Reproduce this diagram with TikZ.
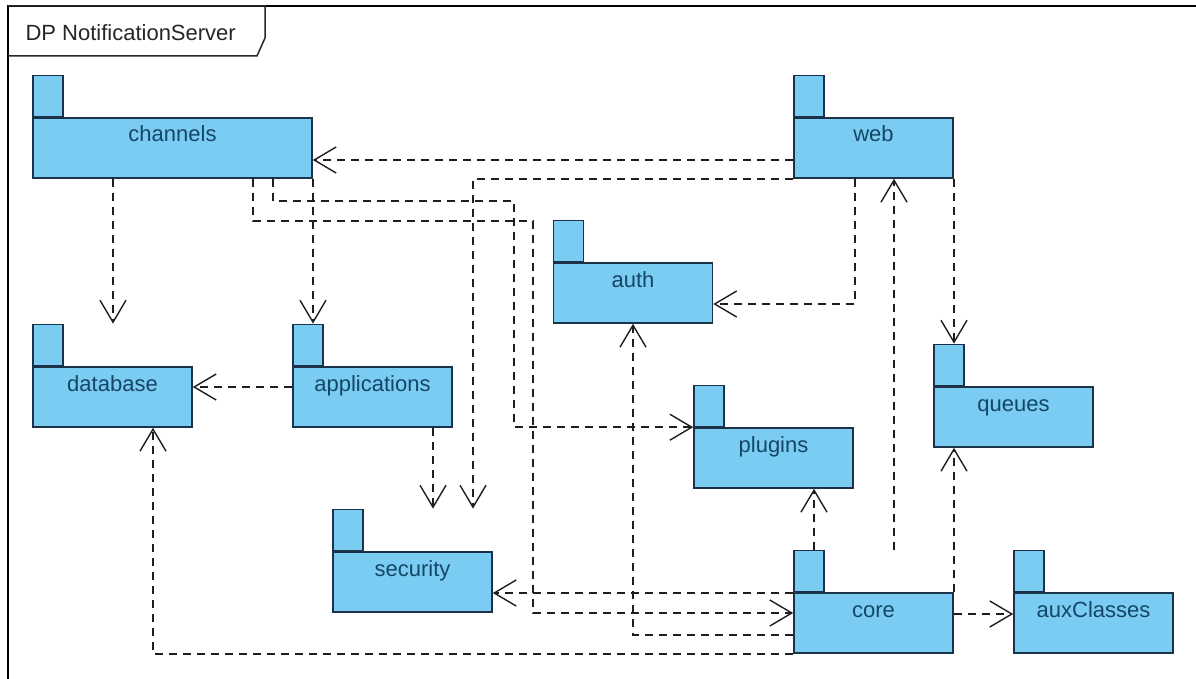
\documentclass[tikz,border=0pt]{standalone}
\usepackage{fontspec}
\setmainfont{Liberation Sans}
\usepackage{tikz}
\usetikzlibrary{arrows.meta,calc,positioning}
\definecolor{celeste}{RGB}{122,204,242}
\definecolor{marino}{RGB}{28,50,72}
\definecolor{tinta}{RGB}{22,70,102}
\definecolor{trazo}{RGB}{30,30,30}
\tikzstyle{package}=[rectangle, draw=marino, fill=celeste, line width=1.6pt,
                     minimum width=159pt, inner xsep=0pt, inner ysep=0pt,
                     text height=24pt, text depth=36pt, text=tinta,
                     font=\fontsize{22}{26}\selectfont]
\tikzstyle{pkgtab}=[rectangle, draw=marino, fill=celeste, line width=1.6pt,
                    minimum width=30pt, minimum height=41pt, inner sep=0pt,
                    anchor=south west]
\tikzstyle{dep}=[draw=trazo, line width=1.7pt, dash pattern=on 8pt off 6pt,
                 -{Straight Barb[length=22pt,width=26pt,line width=1.4pt]}]
\tikzstyle{marco}=[draw=black, line width=2pt]
\tikzstyle{titulo}=[draw=black!85, line width=1.5pt]

\begin{document}
\begin{tikzpicture}[x=1pt,y=-1pt]
    \useasboundingbox (0,0) rectangle (1196,679);

    \draw [marco] (8,679) -- (8,6) -- (1196,6);
    \draw [titulo] (8,6) -- (265,6) -- (265,38) -- (257,56) -- (8,56);
    \draw (22,41) node (title) [anchor=base west, text=black!85,
        font=\fontsize{22}{26}\selectfont] {DP NotificationServer};

    \draw (172.5,148) node (channels) [package, minimum width=279pt] {channels};
    \draw (873.5,148) node (web) [package] {web};
    \draw (112.5,397) node (database) [package] {database};
    \draw (372.5,397) node (applications) [package] {applications};
    \draw (633,293) node (auth) [package] {auth};
    \draw (1013.5,417) node (queues) [package] {queues};
    \draw (773.5,458) node (plugins) [package] {plugins};
    \draw (412.5,582) node (security) [package] {security};
    \draw (873.5,623) node (core) [package] {core};
    \draw (1093.5,623) node (auxClasses) [package] {auxClasses};

    \foreach \p in {channels,web,database,applications,auth,queues,
    plugins,security,core,auxClasses}
        \node (\p-tab) [pkgtab] at (\p.north west) {};

    % straight drops
    \foreach \x/\a/\b in {113/channels.south/database-tab.north,
    313/channels.south/applications-tab.north,
    433/applications.south/security-tab.north,
    954/web.south/queues-tab.north,
    814/core-tab.north/plugins.south,
    894/core-tab.north/web.south,
    954/core.north/queues.south}
        \draw [dep] (\x,0 |- \a) -- (\x,0 |- \b);

    \foreach \y/\a/\b in {160/web.west/channels.east,
    387/applications.west/database.east,
    593/core.west/security.east,
    614/core.east/auxClasses.west}
        \draw [dep] (\a |- 0,\y) -- (\b |- 0,\y);

    \draw [dep] (web.south west) -| (473,0 |- security-tab.north);
    \draw [dep] (855,0 |- web.south) |- (auth.east |- 0,304);
    \draw [dep] (273,0 |- channels.south) |- (514,201) |- (plugins.north west);
    \draw [dep] (253,0 |- channels.south) |- (533,221) |- (core.west |- 0,613);
    \draw [dep] (core.west |- 0,635) -| (auth.south);
    \draw [dep] (core.south west) -| (153,0 |- database.south);

\end{tikzpicture}
\end{document}
